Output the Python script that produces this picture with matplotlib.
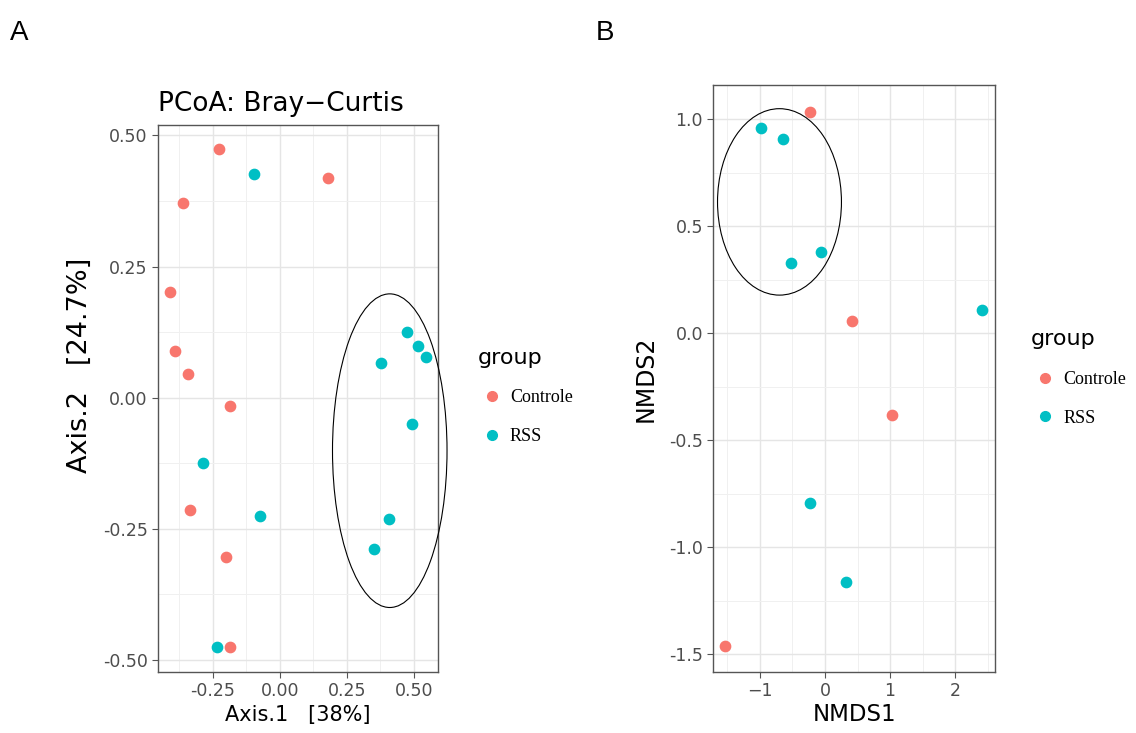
import matplotlib
matplotlib.use('Agg')
import matplotlib.pyplot as plt
from matplotlib.patches import Ellipse
from matplotlib.lines import Line2D
import numpy as np

# PCoA (Bray-Curtis) coordinates
pcoa_ctrl_x = [-0.225, 0.179, -0.360, -0.408, -0.392, -0.344, -0.184, -0.333, -0.199, -0.184]
pcoa_ctrl_y = [0.475, 0.419, 0.372, 0.201, 0.090, 0.045, -0.015, -0.215, -0.303, -0.476]
pcoa_rss_x = [-0.097, 0.473, 0.514, 0.545, 0.378, 0.494, -0.288, -0.075, 0.409, 0.353, -0.234]
pcoa_rss_y = [0.427, 0.125, 0.098, 0.078, 0.066, -0.051, -0.125, -0.226, -0.232, -0.289, -0.476]

# NMDS coordinates
nmds_ctrl_x = [-0.226, 0.420, 1.026, -1.538]
nmds_ctrl_y = [1.036, 0.059, -0.382, -1.461]
nmds_rss_x = [-0.980, -0.646, -0.528, -0.057, 2.415, -0.231, 0.323]
nmds_rss_y = [0.959, 0.910, 0.327, 0.380, 0.109, -0.792, -1.161]

groups = ['Controle', 'RSS']
colors = ['#F8766D', '#00BFC4']

pcoa_ticks = [-0.50, -0.25, 0.00, 0.25, 0.50]
nmds_xticks = [-1, 0, 1, 2]
nmds_yticks = [-1.5, -1.0, -0.5, 0.0, 0.5, 1.0]

plt.rcParams['font.family'] = ['DejaVu Sans']

fig = plt.figure(figsize=(11.36, 7.33), dpi=100)


def style_axes(ax):
    ax.set_facecolor('white')
    ax.grid(True, which='major', color='#E5E5E5', lw=1.0)
    ax.grid(True, which='minor', color='#F0F0F0', lw=0.7)
    ax.set_axisbelow(True)
    for s in ax.spines.values():
        s.set_color('#555555')
        s.set_linewidth(1.0)
    ax.tick_params(which='major', length=4, color='#555555', labelcolor='#4D4D4D',
                   labelsize=12.5)
    ax.tick_params(which='minor', length=0)


def add_legend(ax, x, y):
    handles = [Line2D([], [], marker='o', ls='', color=c, markersize=7) for c in colors]
    leg = ax.legend(handles, groups, title='group', loc='upper left',
                    bbox_to_anchor=(x, y), bbox_transform=fig.transFigure,
                    frameon=False, prop={'family': 'Liberation Serif', 'size': 13},
                    title_fontsize=16, labelspacing=1.2, handletextpad=0.2,
                    handlelength=1.6)
    leg._legend_box.align = 'left'


# Panel A
axA = fig.add_axes([0.1391, 0.0832, 0.2465, 0.7463])
axA.scatter(pcoa_ctrl_x, pcoa_ctrl_y, s=55, color=colors[0], zorder=3)
axA.scatter(pcoa_rss_x, pcoa_rss_y, s=55, color=colors[1], zorder=3)
axA.add_patch(Ellipse((0.41, -0.101), 0.427, 0.598, fill=False, ec='black', lw=0.8,
                      clip_on=False, zorder=4))
axA.set_xlim(-0.454, 0.590)
axA.set_ylim(-0.523, 0.520)
axA.set_xticks([-0.25, 0.00, 0.25, 0.50])
axA.set_xticks([-0.375, -0.125, 0.125, 0.375], minor=True)
axA.set_yticks(pcoa_ticks)
axA.set_yticks([-0.375, -0.125, 0.125, 0.375], minor=True)
axA.xaxis.set_major_formatter(matplotlib.ticker.FormatStrFormatter('%.2f'))
axA.yaxis.set_major_formatter(matplotlib.ticker.FormatStrFormatter('%.2f'))
style_axes(axA)
axA.set_xlabel('Axis.1   [38%]', fontsize=15, labelpad=3)
axA.set_ylabel('Axis.2   [24.7%]', fontsize=19.5)
axA.yaxis.set_label_coords(-0.232, 0.561)
axA.set_title('PCoA: Bray\u2212Curtis', fontsize=19, loc='left', pad=10)
add_legend(axA, 0.406, 0.548)

# Panel B
axB = fig.add_axes([0.6279, 0.0836, 0.2480, 0.8004])
axB.scatter(nmds_ctrl_x, nmds_ctrl_y, s=55, color=colors[0], zorder=3)
axB.scatter(nmds_rss_x, nmds_rss_y, s=55, color=colors[1], zorder=3)
axB.add_patch(Ellipse((-0.70, 0.614), 1.906, 0.871, fill=False, ec='black', lw=0.8,
                      zorder=4))
axB.set_xlim(-1.718, 2.615)
axB.set_ylim(-1.581, 1.160)
axB.set_xticks(nmds_xticks)
axB.set_xticks([-1.5, -0.5, 0.5, 1.5, 2.5], minor=True)
axB.set_yticks(nmds_yticks)
axB.set_yticks([-1.25, -0.75, -0.25, 0.25, 0.75], minor=True)
axB.yaxis.set_major_formatter(matplotlib.ticker.FormatStrFormatter('%.1f'))
style_axes(axB)
axB.set_xlabel('NMDS1', fontsize=16.5, labelpad=2)
axB.set_ylabel('NMDS2', fontsize=17, labelpad=8)
add_legend(axB, 0.893, 0.573)

fig.text(0.009, 0.945, 'A', fontsize=20, family='Liberation Sans')
fig.text(0.524, 0.945, 'B', fontsize=20, family='Liberation Sans')

fig.savefig('out.png', dpi=100)
